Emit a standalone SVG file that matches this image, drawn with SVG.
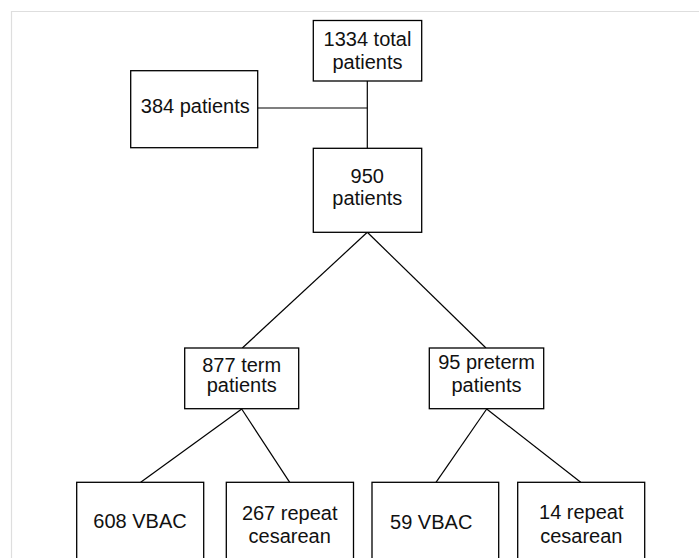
<svg xmlns="http://www.w3.org/2000/svg" width="699" height="558" viewBox="0 0 699 558">
<style>
.box{fill:#fff;stroke:#000;stroke-width:1.3}
.c{fill:none;stroke:#000;stroke-width:1.2}
text{font-family:"Liberation Sans",Arial,sans-serif;font-size:20px;fill:#111;text-anchor:middle}
</style>
<rect x="0" y="0" width="699" height="558" fill="#fff"/>
<path d="M11.5,560 V11.5 H700" fill="none" stroke="#dedede" stroke-width="1.2"/>
<g id="connectors">
<path class="c" d="M367.3,81 V148.3"/>
<path class="c" d="M258,108 H367.3"/>
<path class="c" d="M367.3,232.3 L242.3,348"/>
<path class="c" d="M367.3,232.3 L486,348"/>
<path class="c" d="M241.7,409 L140.7,482.3"/>
<path class="c" d="M241.7,409 L289.7,482.3"/>
<path class="c" d="M486.7,409 L436,482.3"/>
<path class="c" d="M486.7,409 L580.7,482.3"/>
</g>
<g id="n1334">
<rect class="box" x="313.3" y="20.5" width="108.4" height="60.5"/>
<text x="367.5" y="45.7">1334 total</text>
<text x="367.5" y="69">patients</text>
</g>
<g id="n384">
<rect class="box" x="130.7" y="70.7" width="127" height="77"/>
<text x="195.3" y="112.7">384 patients</text>
</g>
<g id="n950">
<rect class="box" x="313.3" y="148.3" width="108.4" height="84"/>
<text x="367.3" y="182.7">950</text>
<text x="367.3" y="204.7">patients</text>
</g>
<g id="n877">
<rect class="box" x="184.7" y="348" width="114" height="60.7"/>
<text x="241.7" y="371.7">877 term</text>
<text x="241.7" y="391.7">patients</text>
</g>
<g id="n95">
<rect class="box" x="429.3" y="348" width="114.4" height="60.7"/>
<text x="486.5" y="368.7">95 preterm</text>
<text x="486.5" y="391.7">patients</text>
</g>
<g id="n608">
<rect class="box" x="76.7" y="482.3" width="127" height="90"/>
<text x="140" y="527.7">608 VBAC</text>
</g>
<g id="n267">
<rect class="box" x="226.3" y="482.3" width="127.2" height="90"/>
<text x="289.7" y="520">267 repeat</text>
<text x="289.7" y="543.3">cesarean</text>
</g>
<g id="n59">
<rect class="box" x="372" y="482.3" width="126.7" height="90"/>
<text x="431.2" y="529.3">59 VBAC</text>
</g>
<g id="n14">
<rect class="box" x="517.7" y="482.3" width="127" height="90"/>
<text x="581.3" y="519.3">14 repeat</text>
<text x="581.3" y="543.3">cesarean</text>
</g>
</svg>
